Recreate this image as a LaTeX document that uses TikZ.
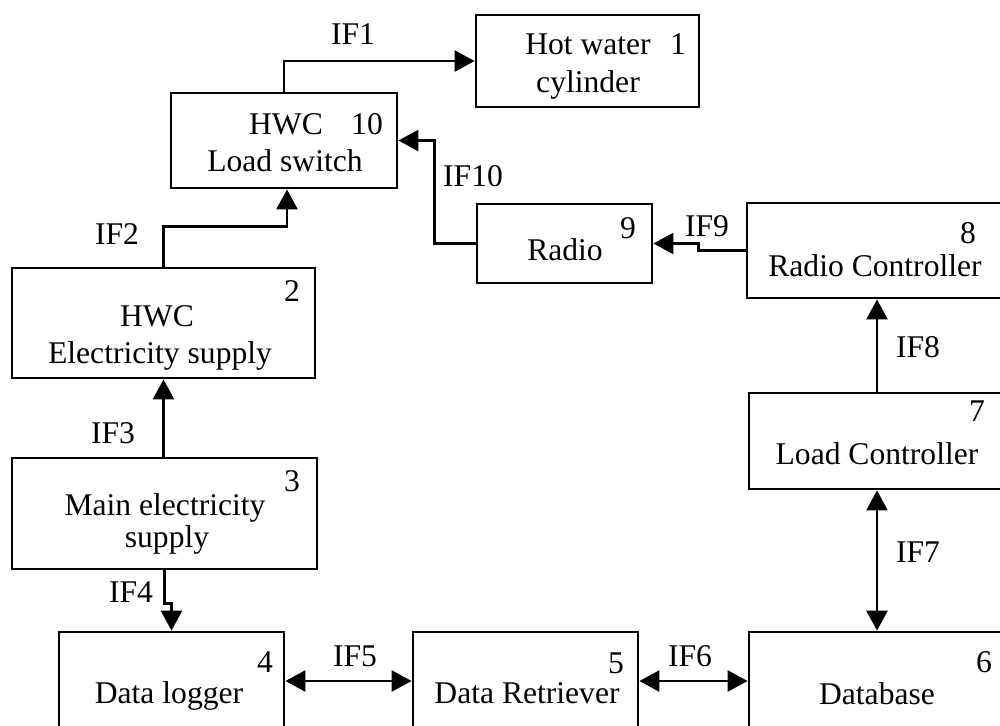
\documentclass[tikz,border=0pt]{standalone}
\usepackage{fontspec}
\setmainfont{Liberation Serif}
\usetikzlibrary{arrows.meta,calc}
\begin{document}
\begin{tikzpicture}[x=0.5pt,y=-0.5pt,
  box/.style={draw,line width=1.4pt,inner sep=0pt,anchor=center},
  txt/.style={inner sep=0pt,anchor=base,font=\fontsize{15.8}{18}\selectfont},
  arr/.style={line width=1.3pt,-{Triangle[length=10pt,width=10.5pt]}},
  darr/.style={line width=1.3pt,{Triangle[length=10pt,width=10.5pt]}-{Triangle[length=10pt,width=10.5pt]}}]
\useasboundingbox (0,0) rectangle (1000,725);
\clip (0,0) rectangle (1000,725);
\fill[white] (0,0) rectangle (1000,725);

% blocks (positions in pixel units, y downwards)
\node[box,minimum width=111.5pt,minimum height=46pt] (b1) at (587.5,61) {};
\node[box,minimum width=113pt,minimum height=47.5pt] (b10) at (284,140.5) {};
\node[box,minimum width=87.5pt,minimum height=39.5pt] (b9) at (564.5,243.5) {};
\node[box,minimum width=130pt,minimum height=47.5pt] (b8) at (877,250.5) {};
\node[box,minimum width=128pt,minimum height=48pt] (b7) at (877,441) {};
\node[box,minimum width=151.5pt,minimum height=55pt] (b2) at (163.5,323) {};
\node[box,minimum width=152.5pt,minimum height=55.5pt] (b3) at (164.5,513.5) {};
\node[box,minimum width=112.5pt,minimum height=49pt] (b4) at (171.5,681) {};
\node[box,minimum width=112.5pt,minimum height=49pt] (b5) at (525.5,681) {};
\node[box,minimum width=128pt,minimum height=49pt] (b6) at (877,681) {};

% block texts
\node[txt] (t1a) at (588,54) {Hot water};
\node[txt] (n1)  at (678,54) {1};
\node[txt] (t1b) at (588,92) {cylinder};
\node[txt] (t10a) at (286,134) {HWC};
\node[txt] (n10)  at (367,134) {10};
\node[txt] (t10b) at (285,171) {Load switch};
\node[txt] (n9)  at (628,238) {9};
\node[txt] (t9)  at (565,260) {Radio};
\node[txt] (n8)  at (968,243) {8};
\node[txt] (t8)  at (875,276) {Radio Controller};
\node[txt] (n7)  at (977,421) {7};
\node[txt] (t7)  at (877,464) {Load Controller};
\node[txt] (n2)  at (292,301) {2};
\node[txt] (t2a) at (157,326) {HWC};
\node[txt] (t2b) at (160,363) {Electricity supply};
\node[txt] (n3)  at (292,491) {3};
\node[txt] (t3a) at (165,515) {Main electricity};
\node[txt] (t3b) at (167,547) {supply};
\node[txt] (n4)  at (265,672) {4};
\node[txt] (t4)  at (169,703) {Data logger};
\node[txt] (n5)  at (616,673) {5};
\node[txt] (t5)  at (527,703) {Data Retriever};
\node[txt] (n6)  at (984,672) {6};
\node[txt] (t6)  at (877,704) {Database};

% interface labels
\node[txt] (l1)  at (353,44)  {IF1};
\node[txt] (l10) at (473,186) {IF10};
\node[txt] (l9)  at (707,236) {IF9};
\node[txt] (l8)  at (918,357) {IF8};
\node[txt] (l7)  at (918,562) {IF7};
\node[txt] (l2)  at (117,244) {IF2};
\node[txt] (l3)  at (113,443) {IF3};
\node[txt] (l4)  at (131,602) {IF4};
\node[txt] (l5)  at (355,666) {IF5};
\node[txt] (l6)  at (690,666) {IF6};

% interfaces
\draw[arr] (b10.north) |- (b1.west);
\draw[arr] (b9.west) -- ++(-41,0) |- (b10.east);
\draw[arr] (b8.west) -- ++(-47,0) |- (b9.east);
\draw[arr] (b7.north) -- (b8.south);
\draw[darr] (b7.south |- b6.north) -- (b7.south);
\draw[arr] (b2.north) -- ++(0,-40) -| ([xshift=1.5pt]b10.south);
\draw[arr] (b2.south |- b3.north) -- (b2.south);
\draw[arr] (b3.south) -- ++(0,33) -| (b4.north);
\draw[darr] (b4.east) -- (b5.west);
\draw[darr] (b5.east) -- (b6.west);
\end{tikzpicture}
\end{document}
